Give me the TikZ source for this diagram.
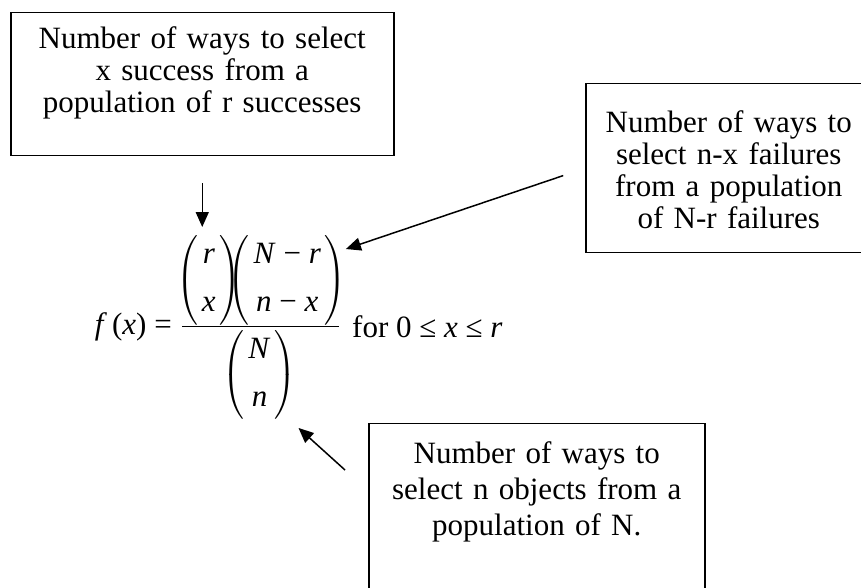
\documentclass[tikz,border=0pt]{standalone}
\usepackage{fontspec}
\setmainfont{Liberation Serif}
\usepackage{amsmath}
\usetikzlibrary{arrows.meta,positioning}
\definecolor{ink}{HTML}{000000}
\tikzset{
  >={Triangle[length=15pt,width=13pt]},
  every node/.style={text=ink,inner sep=0pt},
  box/.style={draw=ink,line width=1.5pt,align=center,anchor=north west,font=\fontsize{31}{32}\selectfont},
  mathpart/.style={font=\fontsize{31}{37}\selectfont},
  arrow/.style={->,line width=1.5pt,draw=ink},
  fracbar/.style={line width=1pt,draw=ink},
}
\newcommand{\mv}[1]{\textit{#1}}
\newcommand{\bino}[2]{$\kern-6pt\left(\begin{tabular}{@{\hspace{4pt}}c@{\hspace{4pt}}}#1\\[11pt]#2\end{tabular}\right)\kern-8pt$}

\begin{document}
\begin{tikzpicture}[x=1pt,y=1pt]
\useasboundingbox (0,0) rectangle (861,588);
\clip (0,0) rectangle (861,588);

% captions
\node[box,text width=383pt,text height=36pt,text depth=107pt] (succ) at (10,576)
{Number of ways to select\\ x success from a\\ population of r successes};
\node[box,text width=286pt,text height=49pt,text depth=120pt] (fail) at (585,505)
{Number of ways to\\ select n-x failures\\ from a population\\ of N-r failures};
\node[box,font=\fontsize{31}{36}\selectfont,text width=336pt,text height=40pt,text depth=200pt] (objs) at (368,165)
{Number of ways to\\ select n objects from a\\ population of N.};

% formula
\node[mathpart,anchor=south west] (rx) at (182,263) {\bino{\mv{r}}{\mv{x}}};
\node[mathpart,anchor=south west] (nr) at (rx.south east) {\bino{\mv{N} − \mv{r}}{\mv{n} − \mv{x}}};
\draw[fracbar] ([yshift=-2pt]rx.south west) -- ([yshift=-2pt]nr.south east);
\node[mathpart,anchor=north] (nn) at (258.5,258) {\bino{\mv{N}}{\mv{n}}};
\node[mathpart,anchor=east] (lhs) at (172,261) {\mv{f}\,(\mv{x}) =};
\node[mathpart,anchor=west] (range) at (352,261) {for 0 ≤ \mv{x} ≤ \mv{r}};

% pointers
\coordinate (nrtip) at ([shift={(7pt,-14pt)}]nr.north east);
\coordinate (objtail) at ([shift={(-23pt,-47pt)}]objs.north west);
\draw[arrow,shorten <=27pt,shorten >=8pt] (succ.south) -- (succ.south |- rx.north);
\draw[arrow,shorten <=23pt] (fail.west) -- (nrtip);
\draw[arrow] (objtail) -- ([shift={(40pt,-8pt)}]nn.south);

\end{tikzpicture}
\end{document}
